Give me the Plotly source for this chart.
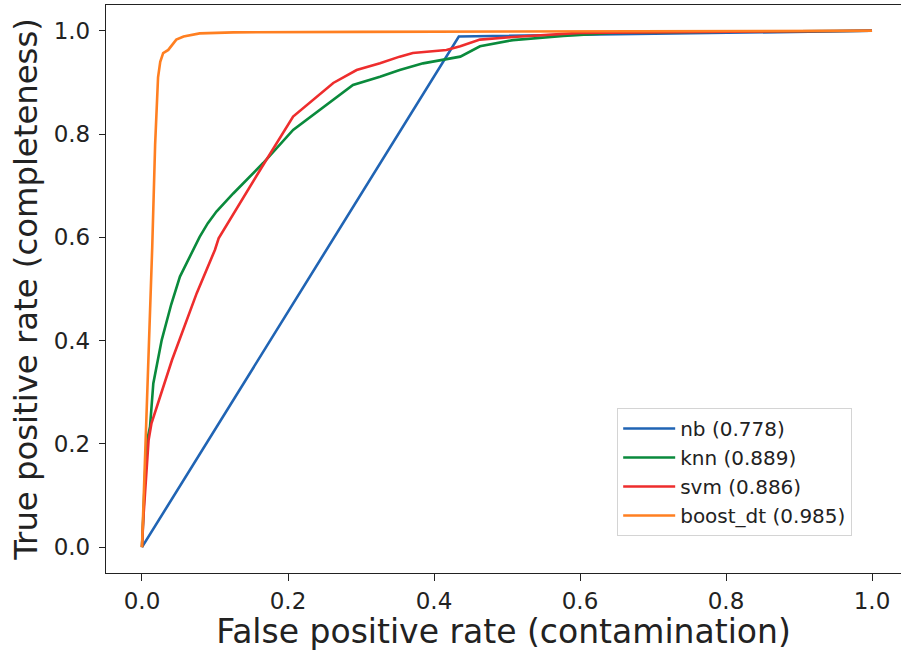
import plotly.graph_objects as go

# ROC curves
nb_fpr = [0.0, 0.434, 1.0]
nb_tpr = [0.0, 0.989, 1.0]

knn_fpr = [0.0, 0.003, 0.006, 0.011, 0.0155, 0.027, 0.04, 0.052, 0.073, 0.079, 0.09, 0.102,
           0.125, 0.166, 0.207, 0.262, 0.289, 0.326, 0.353, 0.385, 0.436, 0.463, 0.508,
           0.577, 0.645, 0.75, 0.85, 1.0]
knn_tpr = [0.0, 0.1, 0.2, 0.233, 0.317, 0.401, 0.47, 0.524, 0.585, 0.601, 0.627, 0.650,
           0.685, 0.744, 0.808, 0.866, 0.895, 0.911, 0.924, 0.937, 0.950, 0.970, 0.982,
           0.990, 0.996, 0.998, 0.999, 1.0]

svm_fpr = [0.0, 0.002, 0.009, 0.013, 0.041, 0.075, 0.1, 0.105, 0.162, 0.207, 0.262, 0.294,
           0.326, 0.353, 0.371, 0.417, 0.436, 0.463, 0.508, 0.6, 0.764, 1.0]
svm_tpr = [0.0, 0.059, 0.207, 0.24, 0.362, 0.492, 0.576, 0.598, 0.731, 0.834, 0.899, 0.924,
           0.937, 0.950, 0.957, 0.963, 0.970, 0.983, 0.988, 0.996, 0.998, 1.0]

boost_fpr = [0.0, 0.005, 0.011, 0.014, 0.018, 0.022, 0.025, 0.029, 0.036, 0.042, 0.047,
             0.057, 0.079, 0.125, 0.3, 1.0]
boost_tpr = [0.0, 0.2, 0.48, 0.58, 0.78, 0.91, 0.94, 0.957, 0.963, 0.975, 0.983,
             0.989, 0.995, 0.997, 0.998, 1.0]

names = ["nb (0.778)", "knn (0.889)", "svm (0.886)", "boost_dt (0.985)"]
colors = ["#2064b4", "#0a8a3c", "#ee2d2d", "#ff7f21"]

series = [(nb_fpr, nb_tpr), (knn_fpr, knn_tpr), (svm_fpr, svm_tpr), (boost_fpr, boost_tpr)]

fig = go.Figure()
for (x, y), n, c in zip(series, names, colors):
    fig.add_trace(go.Scatter(x=x, y=y, mode="lines", name=n,
                             line=dict(color=c, width=2.6)))

font = "DejaVu Sans"
fig.update_layout(
    width=902, height=651,
    margin=dict(l=106, r=1, t=5, b=78, autoexpand=False),
    plot_bgcolor="white", paper_bgcolor="white",
    font=dict(family=font, color="#222222"),
    showlegend=True,
    legend=dict(x=0.643, y=0.2905, xanchor="left", yanchor="top", itemwidth=52,
                bgcolor="white", bordercolor="#d4d4d4", borderwidth=1,
                font=dict(family=font, size=20, color="#222222")),
)
fig.update_xaxes(
    automargin=False,
    range=[-0.0493, 1.0397], tickvals=[0, 0.2, 0.4, 0.6, 0.8, 1.0],
    ticktext=["0.0", "0.2", "0.4", "0.6", "0.8", "1.0"],
    showgrid=False, zeroline=False, showline=True, mirror=True,
    linecolor="#222222", linewidth=1.3, ticks="outside", ticklen=7, tickwidth=1.3,
    tickcolor="#222222", tickfont=dict(family=font, size=23, color="#222222"),
    title=dict(text="False positive rate (contamination)", standoff=2,
               font=dict(family=font, size=33, color="#222222")),
)
fig.update_yaxes(
    automargin=False,
    range=[-0.05, 1.05], tickvals=[0, 0.2, 0.4, 0.6, 0.8, 1.0],
    ticktext=["0.0", "0.2", "0.4", "0.6", "0.8", "1.0"],
    showgrid=False, zeroline=False, showline=True, mirror=False,
    linecolor="#222222", linewidth=1.3, ticks="outside", ticklen=6, tickwidth=1.3,
    ticklabelstandoff=4,
    tickcolor="#222222", tickfont=dict(family=font, size=23, color="#222222"),
    title=dict(text="True positive rate (completeness)", standoff=6,
               font=dict(family=font, size=32.3, color="#222222")),
)
fig.write_html("out.html", config={"displayModeBar": False},
               post_script="document.body.style.margin='0';document.body.style.overflow='hidden';")
